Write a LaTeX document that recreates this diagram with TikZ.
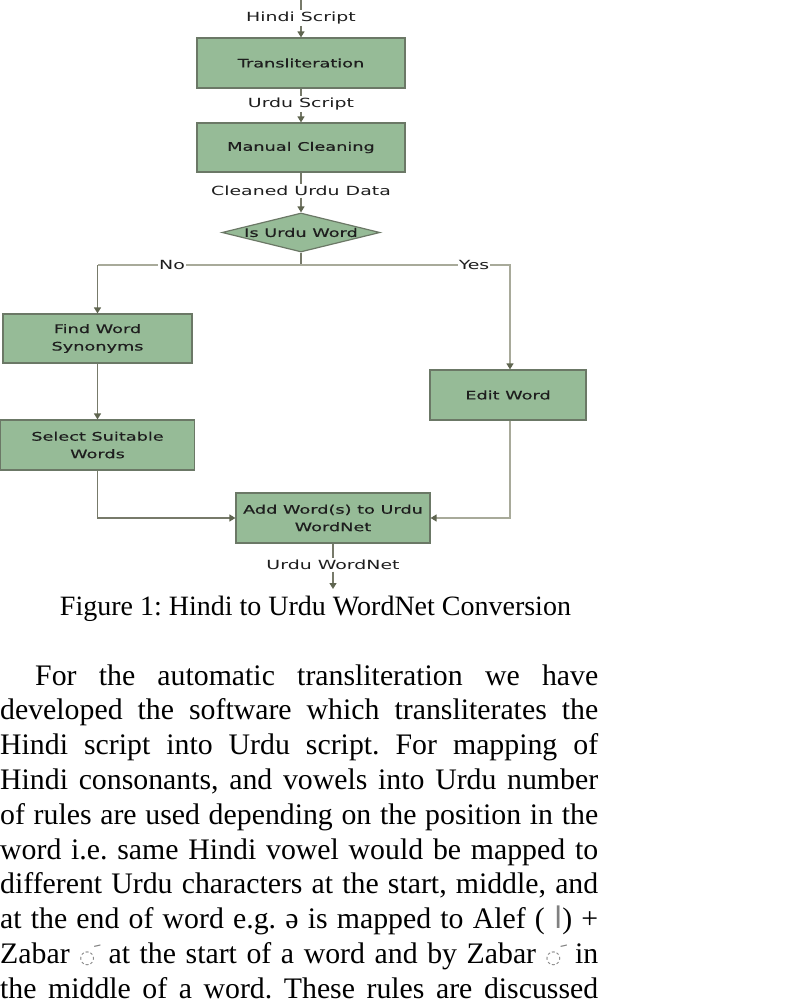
\documentclass[tikz,border=0pt]{standalone}
\usepackage{fontspec}
\setmainfont{Liberation Serif}
\newfontfamily\flow{DejaVu Sans}[FakeStretch=1.5]
\newfontfamily\flowb{DejaVu Sans}[FakeStretch=1.5,FakeBold=0.4]
\newfontfamily\arabicfont[Script=Arabic]{DejaVu Sans}
\newfontfamily\symfont{DejaVu Sans}
\usetikzlibrary{arrows.meta,shapes.geometric}
\definecolor{boxfill}{HTML}{96BB97}
\definecolor{boxdraw}{HTML}{6B7866}
\definecolor{lineA}{HTML}{777A6A}
\definecolor{lineB}{HTML}{A8AA9A}
\definecolor{tipc}{HTML}{5F6550}
\definecolor{flowtext}{HTML}{1E1E1E}
\frenchspacing
\newcommand{\zabarmark}{{\color{gray}{\symfont\fontsize{18}{20}\selectfont ◌}\kern-9pt\makebox[6pt][r]{\raisebox{3pt}{\arabicfont\fontsize{22}{24}\selectfont َ}}\kern7pt}}
\begin{document}
\begin{tikzpicture}[x=1pt,y=-1pt,
  stepbox/.style={draw=boxdraw,fill=boxfill,line width=1.2pt,inner sep=0pt,
    align=center,text=flowtext,font=\flowb\fontsize{11.8}{17.5}\selectfont},
  decision/.style={diamond,draw=boxdraw,fill=boxfill,line width=1.2pt,inner sep=0pt},
  flowlabel/.style={inner sep=1.5pt,text=flowtext,font=\flow\fontsize{12.6}{14}\selectfont},
  branchlabel/.style={flowlabel,fill=white,inner sep=1pt},
  darkline/.style={draw=lineA,line width=1.4pt},
  lightline/.style={draw=lineB,line width=1.4pt},
  tip/.style={-{Triangle[width=7pt,length=6pt,color=tipc]}},
  bodyline/.style={anchor=base west,inner sep=0pt,font=\fontsize{29.8}{34.8}\selectfont},
]
\useasboundingbox (0,0) rectangle (798,1004);

% boxes
\node[stepbox,minimum width=208pt,minimum height=50pt] (trans) at (301,63) {Transliteration};
\node[stepbox,minimum width=208pt,minimum height=49pt] (clean) at (301,147.5) {Manual Cleaning};
\node[decision,minimum width=158pt,minimum height=39pt,
  label={[text=flowtext,font=\flowb\fontsize{11.8}{14}\selectfont]center:Is Urdu Word}] (dia) at (301,232.5) {};
\node[stepbox,minimum width=189pt,minimum height=49pt] (syn) at (97.5,338.5) {Find Word\\Synonyms};
\node[stepbox,minimum width=194pt,minimum height=50pt] (sel) at (97.5,445) {Select Suitable\\Words};
\node[stepbox,minimum width=156pt,minimum height=50pt] (edit) at (508,395) {Edit Word};
\node[stepbox,minimum width=194pt,minimum height=50pt] (add) at (333,518) {Add Word(s) to Urdu\\WordNet};

% labels
\node[flowlabel] (hindi) at (301,18) {Hindi Script};
\node[flowlabel] (urdu) at (301,104) {Urdu Script};
\node[flowlabel] (cleaned) at (301,191) {Cleaned Urdu Data};
\node[flowlabel] (wn) at (333,565) {Urdu WordNet};

\coordinate (top) at (301,0);
\coordinate (split) at (301,265);
\coordinate (bottom) at (333,589);

% connectors
\draw[darkline] (top) -- (hindi.north);
\draw[darkline,tip] (hindi.south) -- (trans.north);
\draw[darkline] (trans.south) -- (urdu.north);
\draw[darkline,tip] (urdu.south) -- (clean.north);
\draw[darkline] (clean.south) -- (cleaned.north);
\draw[darkline,tip] (cleaned.south) -- (dia.north);
\draw[darkline] (dia.south) -- (split);
\node[branchlabel] (no) at (172,265) {No};
\node[branchlabel] (yes) at (474,265) {Yes};
\draw[lightline] (split) -- (no.east);
\draw[lightline] (no.west) -- (syn.north |- no.west);
\draw[darkline,tip] (syn.north |- no.west) -- (syn.north);
\draw[lightline] (split) -- (yes.west);
\draw[lightline,tip] (yes.east) -| ([xshift=2pt]edit.north);
\draw[darkline,tip] (syn.south) -- (sel.north);
\draw[darkline,tip] (sel.south) |- (add.west);
\draw[lightline,tip] ([xshift=2pt]edit.south) |- (add.east);
\draw[darkline] (add.south) -- (wn.north);
\draw[darkline,tip] (wn.south) -- (bottom);

% caption
\node[anchor=base,inner sep=0pt,font=\fontsize{28}{32}\selectfont] (cap) at (315.5,615) {Figure 1: Hindi to Urdu WordNet Conversion};

% body text
\node[bodyline] (l1) at (35,685) {\makebox[563pt][s]{For the automatic transliteration we have}};
\node[bodyline] (l2) at (0,719.8) {\makebox[598pt][s]{developed the software which transliterates the}};
\node[bodyline] (l3) at (0,754.6) {\makebox[598pt][s]{Hindi script into Urdu script. For mapping of}};
\node[bodyline] (l4) at (0,789.4) {\makebox[598pt][s]{Hindi consonants, and vowels into Urdu number}};
\node[bodyline] (l5) at (0,824.2) {\makebox[598pt][s]{of rules are used depending on the position in the}};
\node[bodyline] (l6) at (0,859) {\makebox[598pt][s]{word i.e. same Hindi vowel would be mapped to}};
\node[bodyline] (l7) at (0,893.8) {\makebox[598pt][s]{different Urdu characters at the start, middle, and}};
\node[bodyline] (l8) at (0,928.6) {\makebox[598pt][s]{at the end of word e.g. ə is mapped to Alef ( {\color{gray}\arabicfont ا}) +}};
\node[bodyline] (l9) at (0,963.4) {\makebox[598pt][s]{Zabar \zabarmark{} at the start of a word and by Zabar \zabarmark{} in}};
\node[bodyline] (l10) at (0,998.2) {\makebox[598pt][s]{the middle of a word. These rules are discussed}};
\end{tikzpicture}
\end{document}
